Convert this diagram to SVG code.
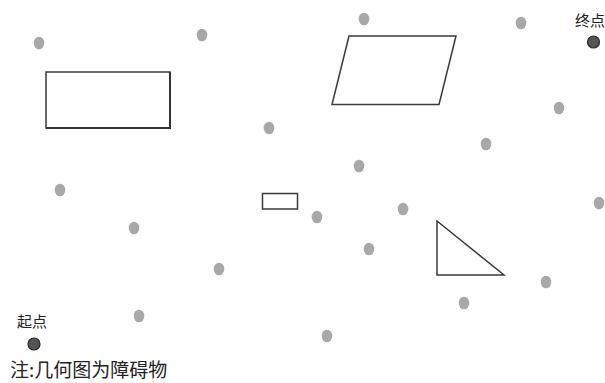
<svg xmlns="http://www.w3.org/2000/svg" width="605" height="383" viewBox="0 0 605 383">
<style>
.pt{fill:#a8a8a8;}
.key{fill:#555;stroke:#2a2a2a;stroke-width:1.2;}
.obs{fill:#fff;stroke:#3a3a3a;stroke-width:1.5;}
.lbl{font-family:"Noto Sans CJK SC","Noto Sans CJK JP",sans-serif;fill:#222;}
</style>
<rect width="605" height="383" fill="#fff"/>
<g id="obstacles">
<g id="rect-large"><rect class="obs" x="46" y="72" width="124" height="56" stroke="#777"/><polyline points="170,72 170,128 46,128" fill="none" stroke="#333" stroke-width="2"/></g>
<g id="parallelogram"><polygon class="obs" points="349,36 456,36 439,104.5 332,104.5"/></g>
<g id="rect-small"><rect class="obs" x="262.5" y="193.5" width="35" height="15.5" stroke-width="2"/></g>
<g id="triangle"><polygon class="obs" points="437,221 437,275 504,275" stroke-width="1.8"/></g>
</g>
<g id="points">
<ellipse class="pt" cx="39" cy="43" rx="5.3" ry="6.3"/>
<ellipse class="pt" cx="202" cy="35" rx="5.3" ry="6.3"/>
<ellipse class="pt" cx="269" cy="128" rx="5.3" ry="6.3"/>
<ellipse class="pt" cx="60" cy="190" rx="5.3" ry="6.3"/>
<ellipse class="pt" cx="364" cy="19" rx="5.3" ry="6.3"/>
<ellipse class="pt" cx="521" cy="23" rx="5.3" ry="6.3"/>
<ellipse class="pt" cx="559" cy="108" rx="5.3" ry="6.3"/>
<ellipse class="pt" cx="486" cy="144" rx="5.3" ry="6.3"/>
<ellipse class="pt" cx="359" cy="166" rx="5.3" ry="6.3"/>
<ellipse class="pt" cx="134" cy="228" rx="5.3" ry="6.3"/>
<ellipse class="pt" cx="219" cy="269" rx="5.3" ry="6.3"/>
<ellipse class="pt" cx="139" cy="316" rx="5.3" ry="6.3"/>
<ellipse class="pt" cx="317" cy="217" rx="5.3" ry="6.3"/>
<ellipse class="pt" cx="403" cy="209" rx="5.3" ry="6.3"/>
<ellipse class="pt" cx="369" cy="249" rx="5.3" ry="6.3"/>
<ellipse class="pt" cx="599" cy="203" rx="5.3" ry="6.3"/>
<ellipse class="pt" cx="546" cy="282" rx="5.3" ry="6.3"/>
<ellipse class="pt" cx="464" cy="303" rx="5.3" ry="6.3"/>
<ellipse class="pt" cx="327" cy="336" rx="5.3" ry="6.3"/>
</g>
<g id="end">
<circle class="key" cx="593.5" cy="42" r="6"/>
<text class="lbl" x="575" y="26" font-size="15">终点</text>
</g>
<g id="start">
<circle class="key" cx="34" cy="344" r="6"/>
<text class="lbl" x="17" y="327" font-size="15">起点</text>
</g>
<g id="connectors"/>
<text class="lbl" x="10" y="376.5" font-size="19">注:几何图为障碍物</text>
</svg>
